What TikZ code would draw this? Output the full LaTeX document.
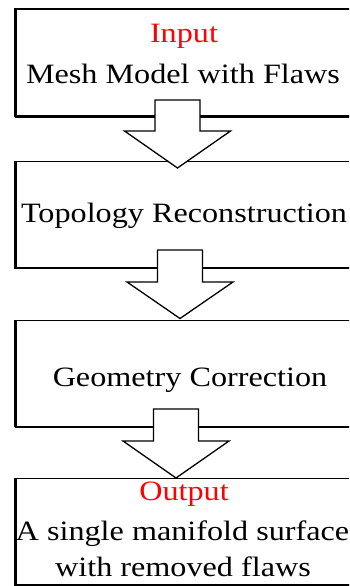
\documentclass[tikz,border=0pt]{standalone}
\usepackage{fontspec}
\setmainfont[FakeStretch=1.15]{Liberation Serif}
\usetikzlibrary{calc}
\tikzset{
  box/.style={draw=black, line width=1.3pt, fill=white, rectangle, inner sep=0pt, anchor=north west},
  boxedge/.style={line width=3pt, line cap=butt},
  boxbottom/.style={line width=2.4pt, line cap=butt},
  txt/.style={anchor=base, inner sep=0pt, font=\fontsize{28}{32}\selectfont},
  redtxt/.style={txt, text=red},
  blockarrow/.style={draw=black, line width=1.3pt, fill=white, line join=miter}
}
\newcommand{\bigarrow}[4]{% center x, shaft top, head base, tip
  \draw[blockarrow] (#1-22.5,#2) -- (#1+22.5,#2) -- (#1+22.5,#3) -- (#1+53,#3)
     -- (#1,#4) -- (#1-53,#3) -- (#1-22.5,#3) -- cycle;}
\begin{document}
\begin{tikzpicture}[x=1pt,y=-1pt]
\useasboundingbox (0,0) rectangle (349,586);
\clip (0,0) rectangle (349,586);
\fill[white] (0,0) rectangle (349,586);
% boxes
\node[box, minimum width=345pt, minimum height=107pt] (b1) at (14.5,8.5) {};
\node[box, minimum width=345pt, minimum height=106pt] (b2) at (14,161) {};
\node[box, minimum width=345pt, minimum height=106pt] (b3) at (14.5,320) {};
\node[box, minimum width=345pt, minimum height=106pt] (b4) at (14,478) {};
\foreach \b in {b1,b2,b3,b4}{
  \draw[boxedge] ($(\b.north west)+(1,0)$) -- ($(\b.south west)+(1,0)$);
  \draw[boxbottom] ($(\b.south west)+(0,-0.5)$) -- ($(\b.south east)+(0,-0.5)$);
}
% arrows
\bigarrow{177.5}{100}{131}{168}
\bigarrow{180}{250}{282}{318.5}
\bigarrow{176}{409}{441}{478}
% texts
\node[redtxt] (t1a) at (184,43) {Input};
\node[txt] (t1b) at (183,83) {Mesh Model with Flaws};
\node[txt] (t2) at (184,222) {Topology Reconstruction};
\node[txt] (t3) at (190,386) {Geometry Correction};
\node[redtxt] (t4a) at (184,500) {Output};
\node[txt] (t4b) at (182.5,540) {A single manifold surface};
\node[txt] (t4c) at (183,576) {with removed flaws};
\end{tikzpicture}
\end{document}
